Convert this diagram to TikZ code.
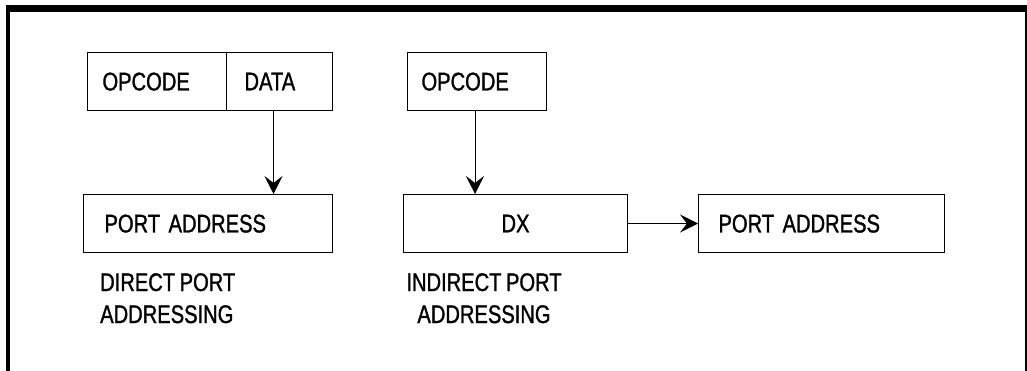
\documentclass[tikz,border=0pt]{standalone}
\usepackage{fontspec}
\setmainfont{Liberation Sans}[FakeStretch=0.79, FakeBold=1.2, WordSpace=0.8]
\usetikzlibrary{arrows.meta}

\tikzset{cell/.style={draw, line width=1pt, anchor=north west, minimum height=58pt, inner ysep=0pt, text depth=0pt, align=left},
         etq/.style={inner sep=0pt, text depth=0pt},
         flow/.style={line width=1pt, -{Stealth[length=18pt, width=18pt, inset=7pt]}}}

\begin{document}
\begin{tikzpicture}[x=1pt, y=-1pt, font=\fontsize{25.5}{32}\selectfont]
  \useasboundingbox (0,0) rectangle (1027,370);
  \draw[line width=4pt] (8,380) -- (8,8.5);
  \draw[line width=7pt] (6,8.5) -- (1027,8.5);
  \draw[line width=2pt] (1026,8.5) -- (1026,380);

  \node[cell, inner xsep=15pt, text width=109pt] (opc1) at (87,52) {OPCODE};
  \node[cell, inner xsep=18pt, text width=70pt] (data) at (226,52) {DATA};
  \node[cell, inner xsep=21pt, text width=207pt] (pa1) at (83,194) {PORT ADDRESS};
  \node[etq, anchor=north west, align=left] (lbl1) at (100,273) {DIRECT PORT\\ADDRESSING};

  \node[cell, inner xsep=14pt, text width=111pt] (opc2) at (407,52) {OPCODE};
  \node[cell, inner xsep=10pt, text width=204pt, align=center] (dx) at (403,194) {DX};
  \node[cell, inner xsep=20pt, text width=206pt] (pa2) at (698,194) {PORT ADDRESS};
  \node[etq, anchor=north, align=center] (lbl2) at (484,273) {INDIRECT PORT\\ADDRESSING};

  \draw[flow] ([xshift=-6pt]data.south) -- ([xshift=-6pt]data.south |- pa1.north);
  \draw[flow] ([xshift=-2pt]opc2.south) -- ([xshift=-2pt]opc2.south |- dx.north);
  \draw[flow] (dx.east) -- (pa2.west);
\end{tikzpicture}
\end{document}
